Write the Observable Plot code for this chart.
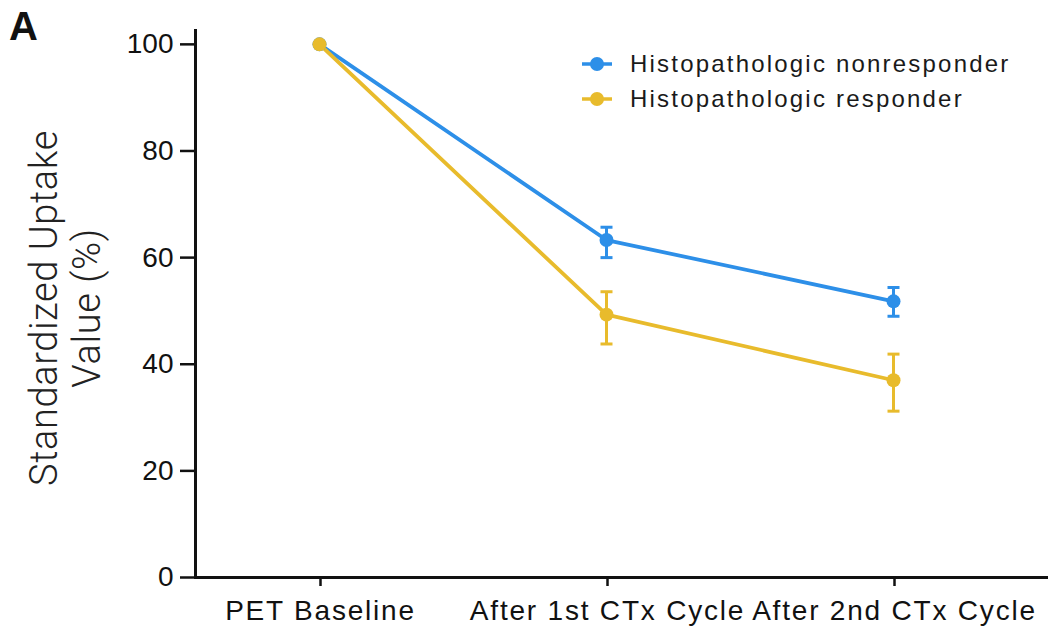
<!DOCTYPE html>
<html>
<head>
<meta charset="utf-8">
<script src="https://cdn.jsdelivr.net/npm/d3@7"></script>
<script src="https://cdn.jsdelivr.net/npm/@observablehq/plot@0.6"></script>
<style>
  html, body { margin: 0; padding: 0; background: #fff; }
  #wrap { position: relative; width: 1050px; height: 634px; overflow: hidden; font-family: "Liberation Sans", Arial, sans-serif; }
  #panel { position: absolute; left: 9px; top: 4px; font-size: 40px; font-weight: bold; color: #111; }
  #ytitle { position: absolute; left: 66px; top: 308px; transform: translate(-50%, -50%) rotate(-90deg); white-space: nowrap; text-align: center; font-family: Roboto, "Liberation Sans", sans-serif; font-weight: 300; font-size: 38px; line-height: 43px; letter-spacing: 0.6px; color: #222; }
  #legend { position: absolute; left: 580px; top: 46px; font-size: 24px; letter-spacing: 2.2px; color: #1a1a1a; }
  .row { display: flex; align-items: center; height: 35px; }
  .row svg { margin-right: 16px; }
  #chart g[aria-label="x-axis tick label"] text { letter-spacing: 1.8px; }
</style>
</head>
<body>
<div id="wrap">
  <div id="chart"></div>
  <div id="panel">A</div>
  <div id="ytitle">Standardized Uptake<br>Value (%)</div>
  <div id="legend"></div>
</div>
<script>
const categories = ["PET Baseline", "After 1st CTx Cycle", "After 2nd CTx Cycle"];
const seriesNames = ["Histopathologic nonresponder", "Histopathologic responder"];
const seriesColors = ["#2d8fe8", "#e8bb2c"];
const nonresponderMean = [100, 63.3, 51.8];
const nonresponderLow = [null, 60.0, 49.0];
const nonresponderHigh = [null, 65.7, 54.4];
const responderMean = [100, 49.3, 37.0];
const responderLow = [null, 43.8, 31.2];
const responderHigh = [null, 53.6, 41.9];
const yTicks = [0, 20, 40, 60, 80, 100];

const series = [
  {name: seriesNames[0], mean: nonresponderMean, low: nonresponderLow, high: nonresponderHigh},
  {name: seriesNames[1], mean: responderMean, low: responderLow, high: responderHigh}
];
const rows = series.flatMap(s => categories.map((c, i) => ({
  group: s.name, cat: c, mean: s.mean[i], low: s.low[i], high: s.high[i]
})));
const errRows = rows.filter(d => d.low != null);

const capSymbol = {
  draw(ctx, size) {
    const r = Math.sqrt(size / Math.PI);
    ctx.moveTo(-r, 0);
    ctx.lineTo(r, 0);
  }
};

const color = {domain: seriesNames, range: seriesColors};

const chart = Plot.plot({
  width: 1050,
  height: 634,
  marginLeft: 195,
  marginRight: 4,
  marginTop: 30,
  marginBottom: 57,
  style: {fontFamily: "'Liberation Sans', Arial, sans-serif", color: "#111", background: "#fff"},
  x: {type: "point", domain: categories, range: [318, 893], padding: 0},
  y: {domain: [0, 102.6]},
  color,
  marks: [
    Plot.axisY({ticks: yTicks, tickSize: 15, tickPadding: 7, label: null, fontSize: 28, strokeWidth: 2.5}),
    Plot.axisX({tickSize: 9, tickPadding: 14, label: null, fontSize: 28, strokeWidth: 2.5, dx: 1}),
    Plot.frame({anchor: "left", strokeWidth: 3}),
    Plot.frame({anchor: "bottom", strokeWidth: 3}),
    Plot.line(rows, {x: "cat", y: "mean", z: "group", stroke: "group", strokeWidth: 3.8}),
    Plot.ruleX(errRows, {x: "cat", y1: "low", y2: "high", stroke: "group", strokeWidth: 3}),
    Plot.dot(errRows, {x: "cat", y: "low", symbol: capSymbol, r: 6, fill: "none", stroke: "group", strokeWidth: 3}),
    Plot.dot(errRows, {x: "cat", y: "high", symbol: capSymbol, r: 6, fill: "none", stroke: "group", strokeWidth: 3}),
    Plot.dot(rows, {x: "cat", y: "mean", fill: "group", r: 7})
  ]
});
document.getElementById("chart").appendChild(chart);

const legend = d3.select("#legend");
seriesNames.forEach((name, i) => {
  const row = legend.append("div").attr("class", "row");
  const svg = row.append("svg").attr("width", 34).attr("height", 20);
  svg.append("line").attr("x1", 2).attr("x2", 32).attr("y1", 10).attr("y2", 10)
    .attr("stroke", seriesColors[i]).attr("stroke-width", 3.5);
  svg.append("circle").attr("cx", 17).attr("cy", 10).attr("r", 7).attr("fill", seriesColors[i]);
  row.append("span").text(name);
});
</script>
</body>
</html>
